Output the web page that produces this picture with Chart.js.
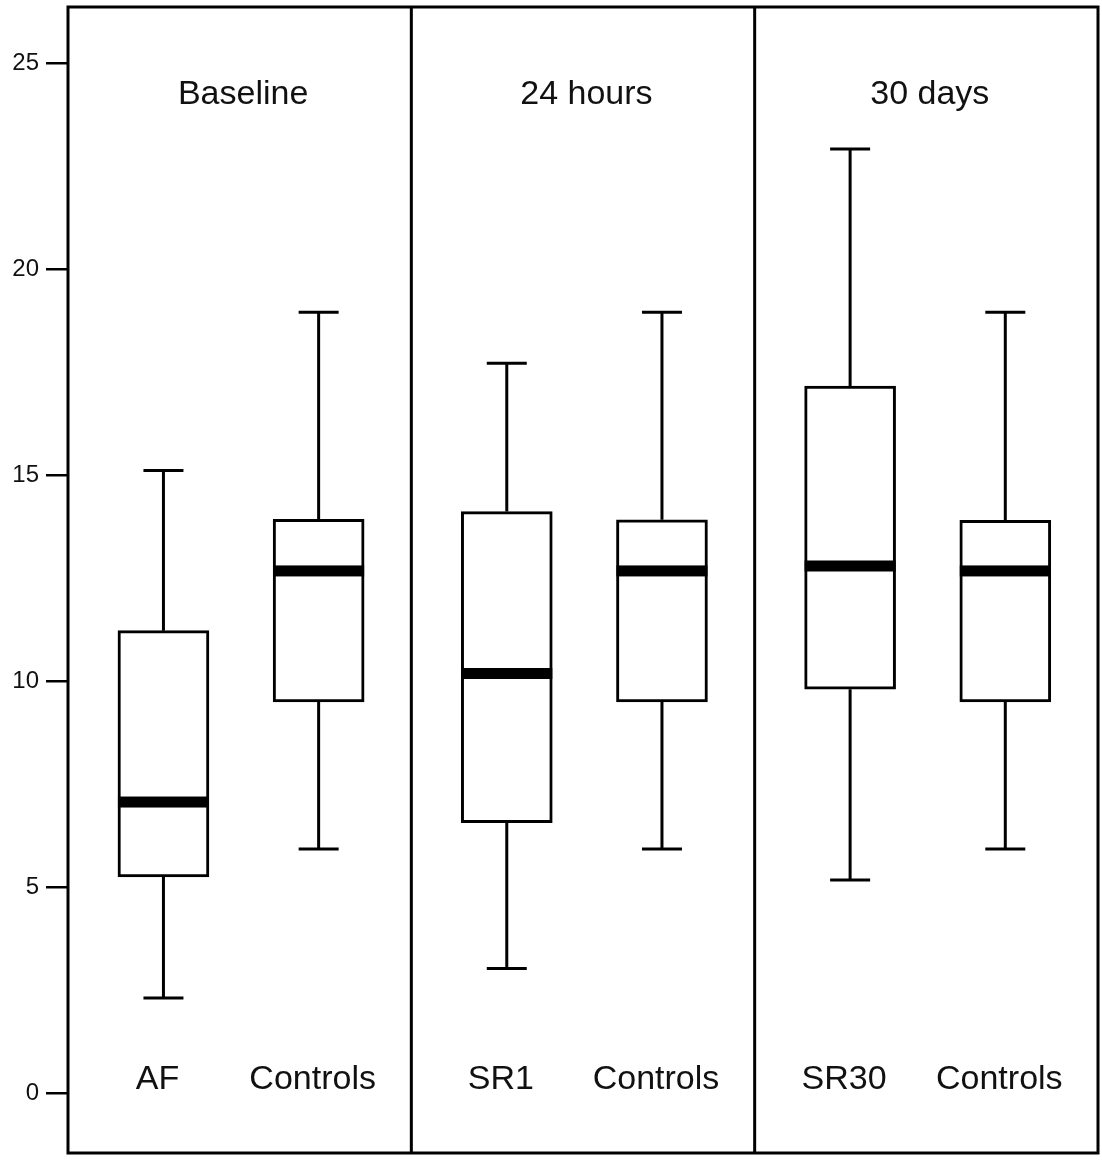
<!DOCTYPE html>
<html>
<head>
<meta charset="utf-8">
<script src="https://cdn.jsdelivr.net/npm/chart.js@4/dist/chart.umd.min.js"></script>
<style>
  html, body { margin: 0; padding: 0; background: #ffffff; }
  #wrap { width: 1102px; height: 1162px; }
</style>
</head>
<body>
<div id="wrap"><canvas id="c" width="1102" height="1162"></canvas></div>
<script>
// ---- data ----
const panelTitles = ['Baseline', '24 hours', '30 days'];
const groupLabels = ['AF', 'Controls', 'SR1', 'Controls', 'SR30', 'Controls'];
const groupPanel  = [0, 0, 1, 1, 2, 2];
const groupSlot   = [0, 1, 0, 1, 0, 1];
const whiskerLow  = [2.31, 5.93, 3.03, 5.93, 5.18, 5.93];
const quart1      = [5.25, 9.50, 6.57, 9.50, 9.81, 9.50];
const medians     = [7.07, 12.68, 10.19, 12.68, 12.80, 12.68];
const quart3      = [11.23, 13.93, 14.12, 13.92, 17.17, 13.91];
const whiskerHigh = [15.12, 18.96, 17.72, 18.96, 22.92, 18.96];
const yTicks      = [0, 5, 10, 15, 20, 25];

// ---- layout helpers (positions in x-axis units: each panel spans 1 unit) ----
const slotOffset = [0.278, 0.730];
const xPos = groupLabels.map((_, i) => groupPanel[i] + slotOffset[groupSlot[i]]);
const FONT = '"Liberation Sans", Arial, Helvetica, sans-serif';

const boxPlugin = {
  id: 'boxExtras',
  beforeDatasetsDraw(chart) {
    const { ctx, scales: { x, y } } = chart;
    ctx.save();
    ctx.strokeStyle = '#000';
    ctx.lineWidth = 3;
    ctx.lineCap = 'butt';
    const capHalf = 20;
    xPos.forEach((xv, i) => {
      const px = x.getPixelForValue(xv);
      const yLo = y.getPixelForValue(whiskerLow[i]);
      const yQ1 = y.getPixelForValue(quart1[i]);
      const yQ3 = y.getPixelForValue(quart3[i]);
      const yHi = y.getPixelForValue(whiskerHigh[i]);
      ctx.beginPath();
      ctx.moveTo(px, yLo); ctx.lineTo(px, yQ1);
      ctx.moveTo(px, yQ3); ctx.lineTo(px, yHi);
      ctx.moveTo(px - capHalf, yLo); ctx.lineTo(px + capHalf, yLo);
      ctx.moveTo(px - capHalf, yHi); ctx.lineTo(px + capHalf, yHi);
      ctx.stroke();
    });
    ctx.restore();
  },
  afterDatasetsDraw(chart) {
    const { ctx, chartArea: a, scales: { x, y } } = chart;
    ctx.save();
    // medians
    const meta = chart.getDatasetMeta(0);
    ctx.fillStyle = '#000';
    meta.data.forEach((bar, i) => {
      const half = bar.width / 2;
      const ym = y.getPixelForValue(medians[i]);
      ctx.fillRect(bar.x - half, ym - 5.5, bar.width, 11);
    });
    // frame and panel dividers
    ctx.strokeStyle = '#000';
    ctx.lineWidth = 3;
    ctx.strokeRect(a.left, a.top, a.right - a.left, a.bottom - a.top);
    ctx.beginPath();
    for (let p = 1; p < panelTitles.length; p++) {
      const px = x.getPixelForValue(p);
      ctx.moveTo(px, a.top); ctx.lineTo(px, a.bottom);
    }
    ctx.stroke();
    // panel titles
    ctx.fillStyle = '#111';
    ctx.textAlign = 'center';
    ctx.textBaseline = 'middle';
    ctx.font = '34px ' + FONT;
    panelTitles.forEach((t, p) => {
      ctx.fillText(t, x.getPixelForValue(p + 0.51), y.getPixelForValue(24.25));
    });
    // group labels
    groupLabels.forEach((t, i) => {
      ctx.fillText(t, x.getPixelForValue(xPos[i]) - 6, y.getPixelForValue(0.32));
    });
    ctx.restore();
  }
};

new Chart(document.getElementById('c'), {
  type: 'bar',
  data: {
    datasets: [{
      data: xPos.map((xv, i) => ({ x: xv, y: [quart1[i], quart3[i]] })),
      backgroundColor: '#ffffff',
      borderColor: '#000000',
      borderWidth: 3,
      borderSkipped: false,
      barThickness: 91
    }]
  },
  options: {
    responsive: false,
    animation: false,
    layout: { padding: { top: 7, bottom: 9, right: 4, left: 0 } },
    plugins: { legend: { display: false }, tooltip: { enabled: false } },
    scales: {
      x: {
        type: 'linear',
        min: 0,
        max: 3,
        offset: false,
        display: false
      },
      y: {
        type: 'linear',
        min: -1.45,
        max: 26.37,
        afterBuildTicks(scale) { scale.ticks = yTicks.map(v => ({ value: v })); },
        afterFit(scale) {
          scale.width = 68;
          scale.paddingTop = 0;
          scale.paddingBottom = 0;
        },
        border: { display: false },
        grid: {
          drawOnChartArea: false,
          drawTicks: true,
          tickLength: 22,
          color: '#000',
          lineWidth: 2.5
        },
        ticks: {
          color: '#111',
          padding: 7,
          font: { family: FONT, size: 24 }
        }
      }
    }
  },
  plugins: [boxPlugin]
});
</script>
</body>
</html>
